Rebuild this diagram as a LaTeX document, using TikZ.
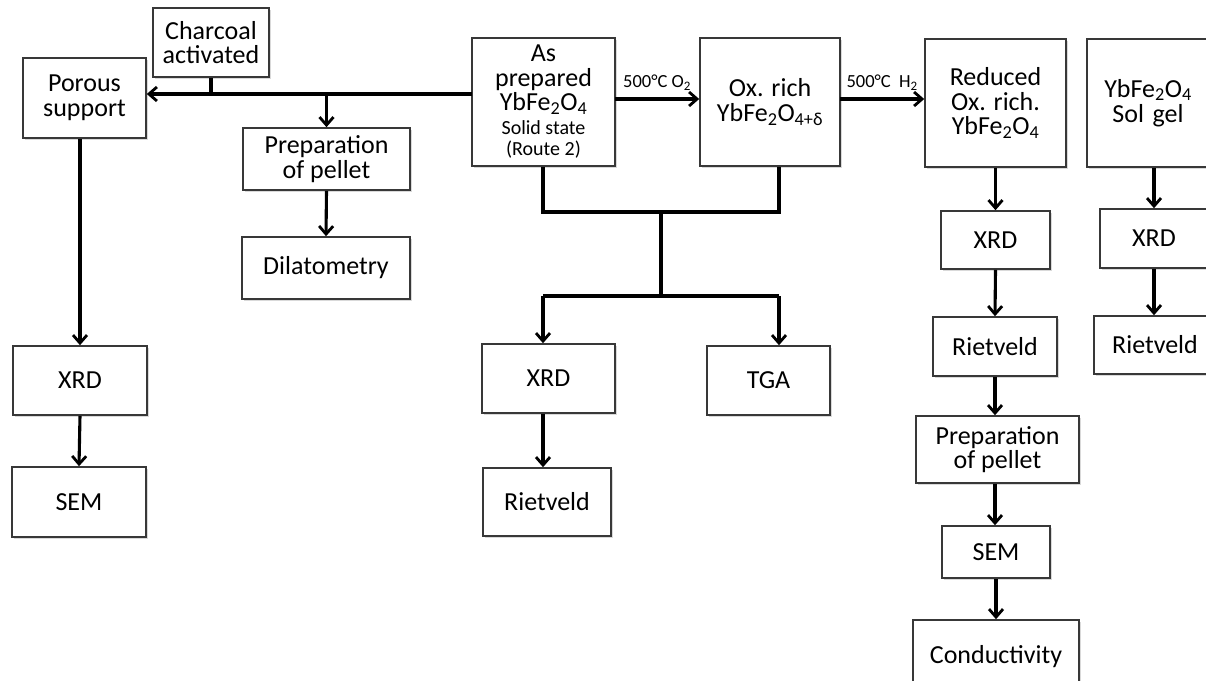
\documentclass[tikz,border=0pt]{standalone}
\usepackage{fontspec}
\setmainfont{Carlito}
\usetikzlibrary{arrows.meta,shadows}
\begin{document}
\begin{tikzpicture}[x=1pt,y=-1pt,
  box/.style={draw=black!78, line width=1.6pt, fill=white, align=center, inner sep=0pt,
    font=\fontsize{26}{24.5}\selectfont,
    drop shadow={opacity=0.3, shadow xshift=1.5pt, shadow yshift=-2pt}},
  link/.style={line width=3.1pt, black},
  arr/.style={link, -{Straight Barb[length=8pt,width=14pt,line width=2.8pt]}},
  lbl/.style={font=\fontsize{18.5}{18}\selectfont, inner sep=1pt, anchor=south}]
\useasboundingbox (0,0) rectangle (1206,680);

% boxes
\node[box, minimum width=116pt, minimum height=69pt] (charcoal) at (211,42.5) {Charcoal\\activated};
\node[box, minimum width=123pt, minimum height=80pt] (porous) at (84.5,98) {Porous\\support};
\node[box, minimum width=167pt, minimum height=62pt] (prep1) at (326.5,159) {Preparation\\of pellet};
\node[box, minimum width=168pt, minimum height=62pt] (dil) at (326,268) {Dilatometry};
\node[box, minimum width=134pt, minimum height=69pt] (xrdL) at (80,380.5) {XRD};
\node[box, minimum width=134pt, minimum height=70pt] (semL) at (79,502) {SEM};

\node[box, minimum width=143pt, minimum height=128pt] (asprep) at (543.5,102)
  {As\\prepared\\YbFe\textsubscript{2}O\textsubscript{4}\\[-1pt]{\fontsize{20}{18}\selectfont Solid state}\\[-3pt]{\fontsize{20}{18}\selectfont (Route 2)}};
\node[box, minimum width=140pt, minimum height=128pt] (oxrich) at (770,102)
  {Ox. rich\\YbFe\textsubscript{2}O\textsubscript{4+δ}};
\node[box, minimum width=133pt, minimum height=69pt] (xrdM) at (548.5,378.5) {XRD};
\node[box, minimum width=128pt, minimum height=68pt] (rietM) at (547,502) {Rietveld};
\node[box, minimum width=123pt, minimum height=69pt] (tga) at (768.5,380.5) {TGA};

\node[box, minimum width=141pt, minimum height=128pt] (reduced) at (995.5,103)
  {Reduced\\Ox. rich.\\YbFe\textsubscript{2}O\textsubscript{4}};
\node[box, minimum width=128pt, minimum height=128pt, text width=128pt] (solgel) at (1151,103)
  {\hspace*{-6pt}YbFe\textsubscript{2}O\textsubscript{4}\\[1pt]\hspace*{-6pt}Sol gel};
\node[box, minimum width=109pt, minimum height=58pt] (xrdR) at (995.5,240) {XRD};
\node[box, minimum width=124pt, minimum height=59pt] (rietR) at (995,346.5) {Rietveld};
\node[box, minimum width=163pt, minimum height=67pt] (prepR) at (997.5,449.5) {Preparation\\of pellet};
\node[box, minimum width=108pt, minimum height=52pt] (semR) at (996,552) {SEM};
\node[box, minimum width=166pt, minimum height=80pt] (cond) at (996,660) {\raisebox{11pt}{Conductivity}};
\node[box, minimum width=108pt, minimum height=59pt] (xrdS) at (1154,238.5) {XRD};
\node[box, minimum width=122pt, minimum height=58pt] (rietS) at (1155,345) {Rietveld};

% left branch
\coordinate (hl) at (472,94);
\draw[arr] (hl) -- (porous.east |- hl);
\draw[link] (charcoal.south) -- (charcoal.south |- hl);
\draw[arr] (prep1.north |- hl) -- (prep1.north);
\draw[arr] (prep1.south) -- (dil.north);
\draw[arr] (xrdL.north |- porous.south) -- (xrdL.north);
\draw[arr] (xrdL.south) -- (semL.north);

% middle branch
\coordinate (ja) at (543,212);
\coordinate (jb) at (779,212);
\coordinate (jm) at (661,212);
\coordinate (ka) at (543,296);
\coordinate (kb) at (779,296);
\coordinate (km) at (661,296);
\draw[link] (ja |- asprep.south) -- (ja) -- (jb) -- (jb |- oxrich.south);
\draw[link] (jm) -- (km);
\draw[link] (ka) -- (kb);
\draw[arr] (ka) -- (ka |- xrdM.north);
\draw[arr] (kb) -- (kb |- tga.north);
\draw[arr] (ka |- xrdM.south) -- (ka |- rietM.north);

% top arrows
\coordinate (o2) at (615,99);
\draw[arr] (o2) -- (oxrich.west |- o2) node[lbl, midway, above=6pt] {500°C O\textsubscript{2}};
\coordinate (h2) at (840,99);
\draw[arr] (h2) -- (reduced.west |- h2) node[lbl, midway, above=6pt] {500°C\ \ H\textsubscript{2}};

% right column
\draw[arr] (reduced.south) -- (xrdR.north);
\draw[arr] (xrdR.south) -- (rietR.north);
\draw[arr] (rietR.south) -- (rietR.south |- prepR.north);
\draw[arr] (rietR.south |- prepR.south) -- (rietR.south |- semR.north);
\draw[arr] (semR.south) -- (semR.south |- cond.north);

% sol gel column
\draw[arr] (xrdS.north |- solgel.south) -- (xrdS.north);
\draw[arr] (xrdS.south) -- (xrdS.south |- rietS.north);
\end{tikzpicture}
\end{document}
